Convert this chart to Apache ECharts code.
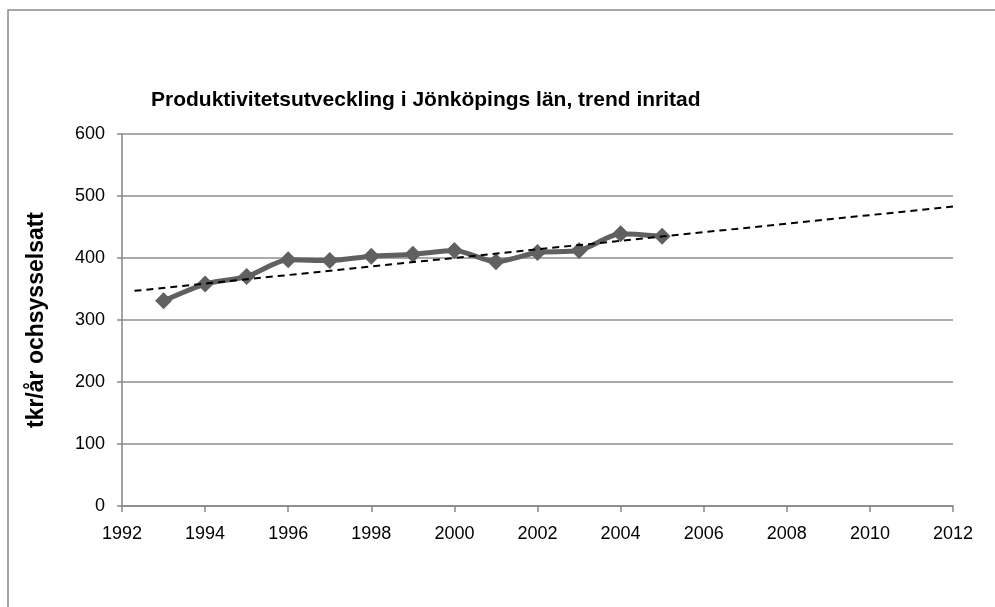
<!DOCTYPE html>
<html>
<head>
<meta charset="utf-8">
<script src="https://cdn.jsdelivr.net/npm/echarts@6/dist/echarts.min.js"></script>
<style>
  html, body { margin: 0; padding: 0; background: #fff; }
  #chart { width: 995px; height: 607px; }
</style>
</head>
<body>
<div id="chart"></div>
<script>
// Productivity per employed person (tkr/year), Jönköping county
const years = [1993, 1994, 1995, 1996, 1997, 1998, 1999, 2000, 2001, 2002, 2003, 2004, 2005];
const productivity = [331, 358, 370, 397, 396, 403, 406, 412, 394, 409, 412, 439, 435];

// Linear trend line, start and end points
const trendYears = [1992.3, 2012];
const trendValues = [347, 483];

const xTicks = { min: 1992, max: 2012, step: 2 };
const yTicks = { min: 0, max: 600, step: 100 };

const titleText = 'Produktivitetsutveckling i Jönköpings län, trend inritad';
const yAxisName = 'tkr/år ochsysselsatt';

const font = '"Liberation Sans", Arial, sans-serif';

const chart = echarts.init(document.getElementById('chart'), null, { renderer: 'canvas' });

chart.setOption({
  animation: false,
  backgroundColor: '#ffffff',
  title: {
    text: titleText,
    left: 146,
    top: 85,
    textStyle: { fontFamily: font, fontSize: 21, fontWeight: 'bold', color: '#000' }
  },
  graphic: [{
    type: 'rect',
    shape: { x: 8, y: 10, width: 1000, height: 700 },
    style: { fill: 'none', stroke: '#8a8a8a', lineWidth: 1.5 },
    silent: true
  }],
  grid: { left: 122, right: 42, top: 134, bottom: 101 },
  xAxis: {
    type: 'value',
    min: xTicks.min,
    max: xTicks.max,
    interval: xTicks.step,
    axisLine: { lineStyle: { color: '#868686', width: 1.5 } },
    axisTick: { show: true, length: 6, lineStyle: { color: '#868686', width: 1.5 } },
    splitLine: { show: false },
    axisLabel: {
      margin: 19,
      fontFamily: font,
      fontSize: 18,
      color: '#000',
      formatter: v => String(v)
    }
  },
  yAxis: {
    type: 'value',
    min: yTicks.min,
    max: yTicks.max,
    interval: yTicks.step,
    name: yAxisName,
    nameLocation: 'middle',
    nameGap: 74,
    nameTextStyle: { fontFamily: font, fontSize: 23, fontWeight: 'bold', color: '#000' },
    axisLine: { show: true, lineStyle: { color: '#868686', width: 1.5 } },
    axisTick: { show: true, length: 5, lineStyle: { color: '#868686', width: 1.5 } },
    splitLine: { show: true, lineStyle: { color: '#8e8e8e', width: 1.5 } },
    axisLabel: {
      margin: 17,
      fontFamily: font,
      fontSize: 18,
      color: '#000'
    }
  },
  series: [
    {
      name: 'Produktivitet',
      type: 'line',
      data: years.map((y, i) => [y, productivity[i]]),
      smooth: 0.25,
      symbol: 'diamond',
      symbolSize: 17,
      lineStyle: { color: '#606060', width: 5 },
      itemStyle: { color: '#606060' },
      z: 3
    },
    {
      name: 'Trend',
      type: 'line',
      data: trendYears.map((y, i) => [y, trendValues[i]]),
      symbol: 'none',
      lineStyle: { color: '#000', width: 2, type: [7, 5] },
      z: 4
    }
  ]
});
</script>
</body>
</html>
